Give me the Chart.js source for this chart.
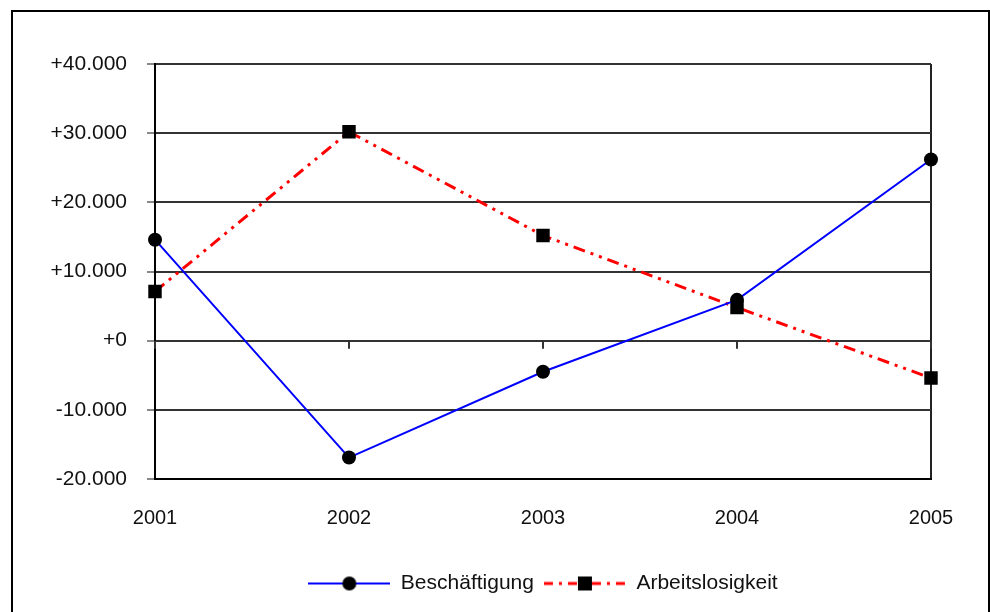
<!DOCTYPE html>
<html>
<head>
<meta charset="utf-8">
<script src="https://cdn.jsdelivr.net/npm/chart.js@4"></script>
<style>
    html, body { margin: 0; padding: 0; background: #fff; overflow: hidden; }
    #frame {
        position: absolute; left: 11px; top: 10px;
        width: 975px; height: 700px;
        border: 2px solid #000;
    }
    #wrap { position: absolute; left: 0; top: 0; width: 990px; height: 612px; }
</style>
</head>
<body>
<div id="frame"></div>
<div id="wrap"><canvas id="chart" width="990" height="612"></canvas></div>
<script>
const years = ['2001', '2002', '2003', '2004', '2005'];
const beschaeftigung = [14600, -16900, -4500, 5900, 26200];
const arbeitslosigkeit = [7100, 30200, 15200, 4800, -5400];
const yTickValues = [-20000, -10000, 0, 10000, 20000, 30000, 40000];
const yTickLabels = ['-20.000', '-10.000', '+0', '+10.000', '+20.000', '+30.000', '+40.000'];

const FONT = "'Liberation Sans', Arial, sans-serif";
const redDash = [12, 6, 3, 6, 3, 6];

// legend symbol: short line with the marker in the middle
function legendSymbol(color, width, dash, marker) {
    const c = document.createElement('canvas');
    c.width = 82;
    c.height = 16;
    const g = c.getContext('2d');
    g.strokeStyle = color;
    g.lineWidth = width;
    g.setLineDash(dash);
    g.beginPath();
    g.moveTo(0, 8);
    g.lineTo(82, 8);
    g.stroke();
    g.fillStyle = '#000';
    if (marker === 'circle') {
        g.beginPath();
        g.arc(41, 8, 7, 0, Math.PI * 2);
        g.fill();
    } else {
        g.fillRect(34, 1, 14, 14);
    }
    return c;
}

// small ticks on the zero line, like the original
const zeroTicks = {
    id: 'zeroTicks',
    afterDatasetsDraw(chart) {
        const x = chart.scales.x;
        const y = chart.scales.y;
        const y0 = y.getPixelForValue(0);
        const ctx = chart.ctx;
        ctx.save();
        ctx.strokeStyle = '#333';
        ctx.lineWidth = 2;
        years.forEach((yr, i) => {
            const px = x.getPixelForValue(i);
            ctx.beginPath();
            ctx.moveTo(px, y0);
            ctx.lineTo(px, y0 + 8);
            ctx.stroke();
        });
        ctx.restore();
    }
};

const ctx = document.getElementById('chart').getContext('2d');
new Chart(ctx, {
    type: 'line',
    data: {
        labels: years,
        datasets: [{
            label: 'Beschäftigung',
            data: beschaeftigung,
            borderColor: '#0000ff',
            borderWidth: 2,
            pointStyle: 'circle',
            pointRadius: 7,
            pointBackgroundColor: '#000',
            pointBorderWidth: 0,
            tension: 0,
            order: 1
        }, {
            label: 'Arbeitslosigkeit',
            data: arbeitslosigkeit,
            borderColor: '#ff0000',
            borderWidth: 3,
            borderDash: redDash,
            pointStyle: 'rect',
            pointRadius: 9.5,
            pointBackgroundColor: '#000',
            pointBorderWidth: 0,
            tension: 0,
            order: 2
        }]
    },
    options: {
        responsive: false,
        animation: false,
        layout: { padding: { left: 0, right: 59, top: 64, bottom: 8 } },
        scales: {
            x: {
                type: 'category',
                offset: false,
                grid: {
                    drawTicks: false,
                    lineWidth: 2,
                    color: (c) => c.index === years.length - 1 ? '#222' : 'rgba(0,0,0,0)'
                },
                border: { display: true, color: '#000', width: 2 },
                ticks: {
                    padding: 27,
                    color: '#111',
                    font: { family: FONT, size: 20 }
                },
                afterFit(scale) { scale.height = 84; }
            },
            y: {
                min: -20000,
                max: 40000,
                afterBuildTicks(scale) {
                    scale.ticks = yTickValues.map(v => ({ value: v }));
                },
                grid: {
                    color: '#333',
                    lineWidth: 2,
                    tickLength: 8,
                    tickColor: '#888'
                },
                border: { display: true, color: '#000', width: 2 },
                ticks: {
                    padding: 20,
                    color: '#111',
                    font: { family: FONT, size: 21 },
                    callback: (v) => yTickLabels[yTickValues.indexOf(v)]
                },
                afterFit(scale) { scale.width = 155; }
            }
        },
        plugins: {
            tooltip: { enabled: false },
            legend: {
                position: 'bottom',
                fullSize: false,
                labels: {
                    usePointStyle: true,
                    pointStyleWidth: 82,
                    padding: 10,
                    color: '#111',
                    font: { family: FONT, size: 21 },
                    generateLabels(chart) {
                        const items = Chart.defaults.plugins.legend.labels.generateLabels(chart);
                        return items.map(it => {
                            const ds = chart.data.datasets[it.datasetIndex];
                            it.pointStyle = ds.pointStyle === 'circle'
                                ? legendSymbol('#0000ff', 2, [], 'circle')
                                : legendSymbol('#ff0000', 3, [9, 6, 3, 6], 'rect');
                            return it;
                        });
                    }
                }
            }
        }
    },
    plugins: [zeroTicks]
});
</script>
</body>
</html>
